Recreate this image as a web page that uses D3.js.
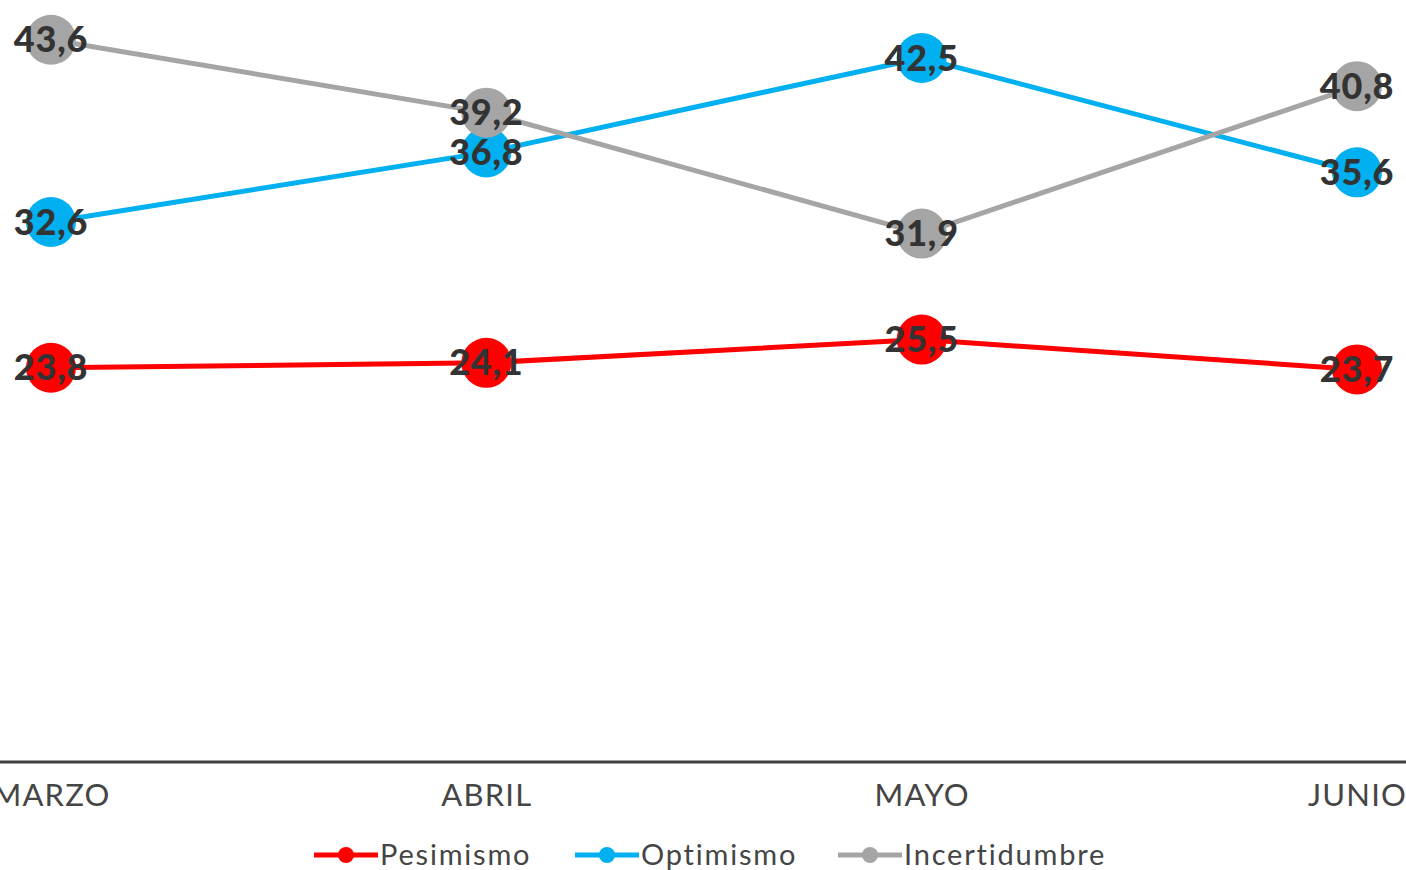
<!DOCTYPE html>
<html>
<head>
<meta charset="utf-8">
<script src="https://cdn.jsdelivr.net/npm/d3@7/dist/d3.min.js"></script>
<style>
  html, body { margin: 0; padding: 0; background: #fff; overflow: hidden; }
  svg { display: block; }
</style>
</head>
<body>
<div id="chart"></div>
<script>
// data
const months = ["MARZO", "ABRIL", "MAYO", "JUNIO"];
const seriesNames = ["Pesimismo", "Optimismo", "Incertidumbre"];
const pesimismo = [23.8, 24.1, 25.5, 23.7];
const optimismo = [32.6, 36.8, 42.5, 35.6];
const incertidumbre = [43.6, 39.2, 31.9, 40.8];
const colors = ["#FF0000", "#00B0F0", "#A5A5A5"];

let width = 1406;
let height = 870;

let series = [pesimismo, optimismo, incertidumbre].map((vals, i) => ({
  name: seriesNames[i],
  color: colors[i],
  values: vals.map((v, j) => ({ month: months[j], value: v }))
}));

let svg = d3.select("#chart")
  .append("svg")
  .attr("width", width)
  .attr("height", height);

/* scales */
let xScale = d3.scalePoint().domain(months).range([51, 1357]);
let yScale = d3.scaleLinear().domain([0, 46]).range([762, 0]);

/* x axis */
let xAxis = d3.axisBottom(xScale).tickSize(0).tickPadding(22);
let gx = svg.append("g")
  .attr("transform", `translate(0, ${yScale(0)})`)
  .call(xAxis);
gx.select(".domain").remove();
gx.append("line")
  .attr("x1", 0).attr("x2", width)
  .attr("stroke", "#404040")
  .attr("stroke-width", 3);
gx.selectAll(".tick text")
  .attr("fill", "#454545")
  .style("font-family", "Lato, sans-serif")
  .style("font-size", "31px")
  .style("letter-spacing", "1.2px");

/* lines */
let line = d3.line()
  .x(d => xScale(d.month))
  .y(d => yScale(d.value));

let groups = svg.selectAll(".series")
  .data(series)
  .enter()
  .append("g")
  .attr("class", "series");

groups.append("path")
  .attr("d", d => line(d.values))
  .attr("fill", "none")
  .attr("stroke", d => d.color)
  .attr("stroke-width", 5);

groups.selectAll("circle")
  .data(d => d.values.map(v => ({ ...v, color: d.color })))
  .enter()
  .append("circle")
  .attr("cx", d => xScale(d.month))
  .attr("cy", d => yScale(d.value))
  .attr("r", 25)
  .attr("fill", d => d.color);

/* value labels on top */
let labels = svg.append("g");
series.forEach(s => {
  labels.selectAll(null)
    .data(s.values)
    .enter()
    .append("text")
    .attr("x", d => xScale(d.month))
    .attr("y", d => yScale(d.value))
    .attr("dy", "0.35em")
    .attr("text-anchor", "middle")
    .attr("fill", "#333333")
    .style("font-family", "Lato, sans-serif")
    .style("font-weight", 900)
    .style("font-size", "36px")
    .style("letter-spacing", "0.8px")
    .text(d => d.value.toFixed(1).replace(".", ","));
});

/* legend */
let legendX = [314, 575, 838];
let legend = svg.append("g").attr("transform", "translate(0, 855)");
let items = legend.selectAll("g")
  .data(series)
  .enter()
  .append("g")
  .attr("transform", (d, i) => `translate(${legendX[i]}, 0)`);
items.append("line")
  .attr("x1", 0).attr("x2", 64)
  .attr("stroke", d => d.color)
  .attr("stroke-width", 5);
items.append("circle")
  .attr("cx", 32)
  .attr("r", 8)
  .attr("fill", d => d.color);
items.append("text")
  .attr("x", 66)
  .attr("dy", "0.36em")
  .attr("fill", "#454545")
  .style("font-family", "Lato, sans-serif")
  .style("font-size", "29px")
  .style("letter-spacing", "1.8px")
  .text(d => d.name);
</script>
</body>
</html>
